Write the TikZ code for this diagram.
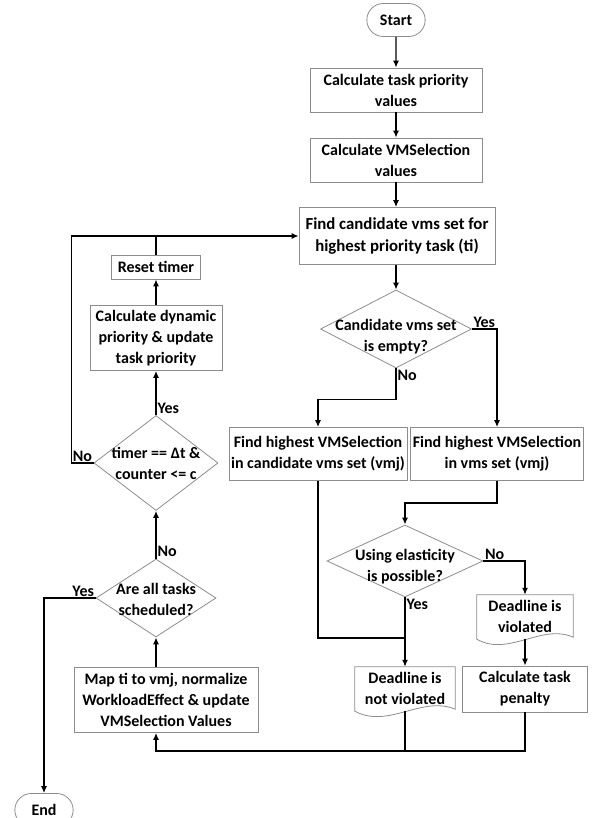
\documentclass[tikz,border=0pt]{standalone}
\usepackage{fontspec}
\setmainfont{Carlito}
\usetikzlibrary{shapes.geometric,shapes.misc,arrows.meta,calc}
\colorlet{boxgray}{black!45}

\begin{document}
\begin{tikzpicture}[x=1pt, y=-1pt, font=\bfseries\fontsize{16}{21}\selectfont,
    box/.style={draw=boxgray, line width=.8pt, align=center, inner sep=2pt},
    term/.style={rounded rectangle, draw=boxgray, line width=.8pt, minimum width=65pt, minimum height=33pt},
    decision/.style={diamond, draw=boxgray, line width=.8pt, inner sep=0pt},
    doc/.style={align=center, inner sep=2pt},
    flow/.style={line width=1.3pt, -{Latex[length=7pt,width=6pt]}},
    link/.style={line width=1.3pt},
    lbl/.style={inner sep=1pt, font=\bfseries\fontsize{16}{18}\selectfont}]
  \useasboundingbox (0,0) rectangle (592,818);
  \node[term] (start) at (396,20) {Start};
  \node[box, minimum width=172pt, minimum height=44pt] (prio) at (396,90) {Calculate task priority\\values};
  \node[box, minimum width=172pt, minimum height=44pt] (vmsel) at (396,160) {Calculate VMSelection\\values};
  \node[box, minimum width=196pt, minimum height=57pt, font=\bfseries\fontsize{16.8}{22}\selectfont] (cand) at (397,236) {Find candidate vms set for\\highest priority task (ti)};
  \node[decision, minimum width=151pt, minimum height=78pt] (empty) at (396,329) {};
  \node[align=center] (emptytxt) at (396,337) {Candidate vms set\\is empty?};
  \node[box, minimum width=178pt, minimum height=53pt] (findc) at (318,454) {Find highest VMSelection\\in candidate vms set (vmj)};
  \node[box, minimum width=172pt, minimum height=53pt] (findv) at (497,454) {Find highest VMSelection\\in vms set (vmj)};
  \node[decision, minimum width=156pt, minimum height=72pt] (elast) at (405,561) {};
  \node[align=center] (elasttxt) at (405,567) {Using elasticity\\is possible?};
  \node[doc, minimum width=96pt, minimum height=42pt] (dlv) at (525,616) {Deadline is\\violated};
  \node[box, minimum width=125pt, minimum height=46pt] (pen) at (525,689) {Calculate task\\penalty};
  \node[doc, minimum width=100pt, minimum height=42pt] (dlnv) at (405,688) {Deadline is\\not violated};
  \node[box, minimum width=184pt, minimum height=65pt] (map) at (166,700) {Map ti to vmj, normalize\\WorkloadEffect \& update\\VMSelection Values};
  \node[decision, minimum width=120pt, minimum height=78pt] (all) at (156,598) {};
  \node[align=center] (alltxt) at (156,599) {Are all tasks\\scheduled?};
  \node[decision, minimum width=124pt, minimum height=95pt] (timer) at (156,463) {};
  \node[align=center] (timertxt) at (156,463) {timer == Δt \&\\counter <= c};
  \node[box, minimum width=132pt, minimum height=65pt] (dyn) at (156,338) {Calculate dynamic\\priority \& update\\task priority};
  \node[box, minimum width=89pt, minimum height=24pt] (reset) at (156,267) {Reset timer};
  \node[term] (end) at (44,810) {End};
  \coordinate (merge) at (405,638);
  \coordinate (bus) at (405,751);
  \foreach \d in {dlv,dlnv}
    \draw[draw=boxgray, line width=.8pt] ($(\d.south west)+(0,2)$) -- (\d.north west) -- (\d.north east) -- (\d.south east)
      .. controls ($(\d.south west)!.67!(\d.south east)+(0,-14)$) and ($(\d.south west)!.33!(\d.south east)+(0,20)$) .. ($(\d.south west)+(0,2)$) -- cycle;
  \draw[flow] (start) -- (prio);
  \draw[flow] (prio) -- (vmsel);
  \draw[flow] (vmsel) -- (vmsel |- cand.north);
  \draw[flow] (cand.south -| empty) -- (empty);
  \draw[flow] (empty.east) node[lbl, above right] (yes1) {Yes} -| (findv.north);
  \draw[flow] (empty.south) node[lbl, below right] (no1) {No} -- ++(0,31) -| (findc.north);
  \draw[flow] (findv.south) -- ++(0,22) -| (elast.north);
  \draw[flow] (elast.east) node[lbl, above right] (no2) {No} -| (dlv.north);
  \draw[flow] (elast.south) node[lbl, below right] (yes2) {Yes} -- (dlnv.north);
  \draw[link] (findc.south) |- (merge);
  \draw[flow] ($(dlv.south)+(0,2)$) -- (pen.north);
  \draw[link] ($(dlnv.south)+(0,2)$) -- (bus);
  \draw[flow] (pen.south) |- (bus -| all.south) -- (map.south -| all.south);
  \draw[flow] (map.north -| all.south) -- (all.south);
  \draw[flow] (all.north) node[lbl, above right] (no3) {No} -- (timer.south);
  \draw[flow] (all.west) node[lbl, above left] (yes3) {Yes} -| (end.north);
  \draw[flow] (timer.north) node[lbl, above right] (yes4) {Yes} -- (dyn.south);
  \draw[flow] (timer.west) node[lbl, above left] (no4) {No} -- ++(-22,0) |- (cand.west);
  \draw[flow] (dyn.north) -- (reset.south);
  \draw[link] (reset.north) -- (reset.north |- cand.west);
\end{tikzpicture}
\end{document}
